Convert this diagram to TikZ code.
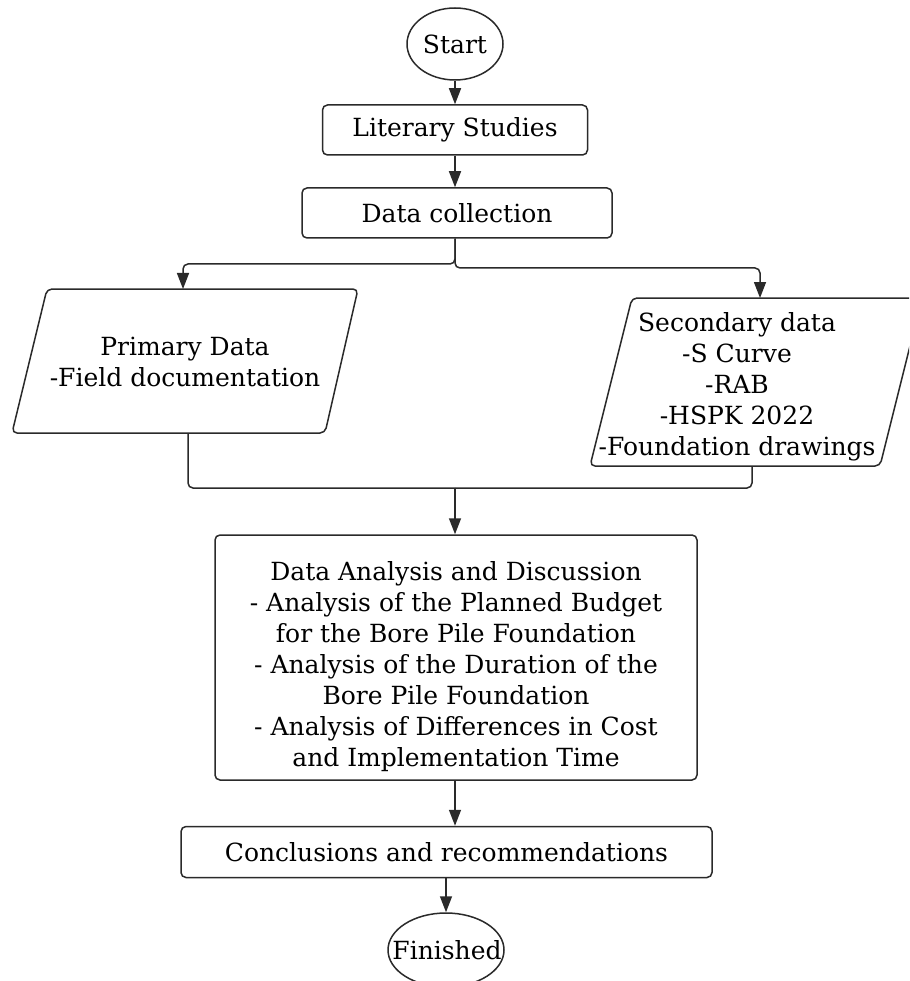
\documentclass[tikz,border=0pt]{standalone}
\usepackage{fontspec}
\setmainfont{DejaVu Serif}
\usetikzlibrary{arrows.meta,shapes.geometric,calc}
\definecolor{linec}{HTML}{2A2A2A}
\begin{document}
\begin{tikzpicture}[x=1pt,y=-1pt,
  every node/.style={font=\fontsize{25}{31}\selectfont, text=black},
  box/.style={draw=linec, line width=1.5pt, rounded corners=5pt, inner sep=0pt, align=center},
  term/.style={draw=linec, line width=1.5pt, ellipse, inner sep=0pt},
  para/.style={draw=linec, line width=1.5pt, rounded corners=5pt},
  conn/.style={draw=linec, line width=1.5pt, rounded corners=5pt},
  arr/.style={conn, -{Triangle[length=16pt,width=12pt]}},
  txt/.style={align=center, inner sep=0pt}
]
\useasboundingbox (0,0) rectangle (909,981);
\clip (0,0) rectangle (909,981);
\fill[white] (0,0) rectangle (909,981);

\node[term, minimum width=96pt, minimum height=72pt] (start) at (455,44) {Start};
\node[box, minimum width=265pt, minimum height=50pt] (lit) at (455,130) {Literary Studies};
\node[box, minimum width=310pt, minimum height=50pt] (dc) at (457,213) {Data collection};

\draw[para] (47,289) -- (358,289) -- (325,433) -- (12,433) -- cycle;
\node[txt] (prim) at (185,362) {Primary Data\\-Field documentation};
\coordinate (primtop) at (183,289);
\coordinate (primbot) at (188,433);

\draw[para] (632,298) -- (922,298) -- (880,466) -- (590,466) -- cycle;
\node[txt] (sec) at (737,387) {Secondary data\\-S Curve\\-RAB\\-HSPK 2022\\-Foundation drawings};
\coordinate (sectop) at (760,298);
\coordinate (secbot) at (752,466);

\coordinate (merge) at (455,488);

\node[box, minimum width=482pt, minimum height=245pt] (ana) at (456,657.5) {};
\node[txt] (anatext) at (456,667) {Data Analysis and Discussion\\- Analysis of the Planned Budget\\for the Bore Pile Foundation\\- Analysis of the Duration of the\\Bore Pile Foundation\\- Analysis of Differences in Cost\\and Implementation Time};

\node[box, minimum width=531pt, minimum height=51pt] (conc) at (446.5,852) {Conclusions and recommendations};
\node[term, minimum width=116pt, minimum height=74pt] (fin) at (446,950) {};
\node[txt] (fintext) at (447,950) {Finished};

\draw[arr] (start.south) -- (start.south |- lit.north);
\draw[arr] (lit.south) -- (lit.south |- dc.north);
\draw[arr] (dc.south -| start.south) -- (455,264) -- (primtop |- 0,264) -- (primtop);
\draw[arr] (dc.south -| start.south) -- (455,268) -- (sectop |- 0,268) -- (sectop);
\draw[conn] (primbot) -- (primbot |- merge) -- (merge);
\draw[conn] (secbot) -- (secbot |- merge) -- (merge);
\draw[arr] (merge) -- (merge |- ana.north);
\draw[arr] (ana.south -| merge) -- (merge |- conc.north);
\draw[arr] (conc.south -| fin.north) -- (fin.north);
\end{tikzpicture}
\end{document}
